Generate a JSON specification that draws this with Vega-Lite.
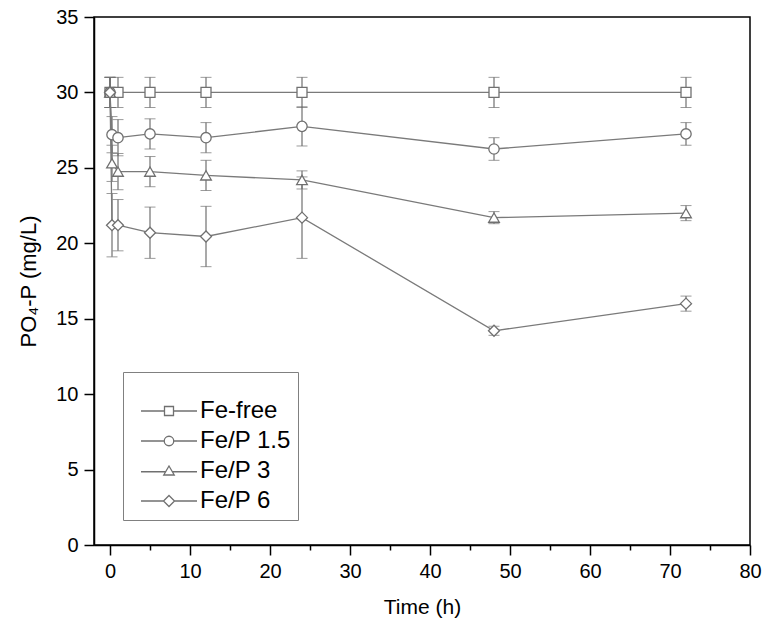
{
  "$schema": "https://vega.github.io/schema/vega-lite/v6.json",
  "width": 656,
  "height": 528,
  "autosize": "none",
  "padding": {"left": 94, "top": 17, "right": 13, "bottom": 86},
  "background": "white",
  "config": {
    "font": "Liberation Sans",
    "view": {"stroke": "black", "strokeWidth": 1.5},
    "axis": {
      "grid": false,
      "domainColor": "black",
      "domainWidth": 1.5,
      "tickColor": "black",
      "tickWidth": 1.5,
      "labelColor": "black",
      "titleColor": "black",
      "labelFont": "Liberation Sans",
      "titleFont": "Liberation Sans",
      "labelFontSize": 20,
      "titleFontSize": 22,
      "titleFontWeight": "normal"
    }
  },
  "data": {
    "values": [
      {"s": "Fe-free", "t": 0, "v": 30, "e": 1},
      {"s": "Fe-free", "t": 1, "v": 30, "e": 1},
      {"s": "Fe-free", "t": 5, "v": 30, "e": 1},
      {"s": "Fe-free", "t": 12, "v": 30, "e": 1},
      {"s": "Fe-free", "t": 24, "v": 30, "e": 1},
      {"s": "Fe-free", "t": 48, "v": 30, "e": 1},
      {"s": "Fe-free", "t": 72, "v": 30, "e": 1},
      {"s": "Fe/P 1.5", "t": 0, "v": 30, "e": 1},
      {"s": "Fe/P 1.5", "t": 0.25, "v": 27.2, "e": 1.2},
      {"s": "Fe/P 1.5", "t": 1, "v": 27.0, "e": 1.2},
      {"s": "Fe/P 1.5", "t": 5, "v": 27.25, "e": 1.0},
      {"s": "Fe/P 1.5", "t": 12, "v": 27.0, "e": 1.0},
      {"s": "Fe/P 1.5", "t": 24, "v": 27.75, "e": 1.3},
      {"s": "Fe/P 1.5", "t": 48, "v": 26.25, "e": 0.75},
      {"s": "Fe/P 1.5", "t": 72, "v": 27.25, "e": 0.75},
      {"s": "Fe/P 3", "t": 0, "v": 30, "e": 1},
      {"s": "Fe/P 3", "t": 0.25, "v": 25.3, "e": 1.2},
      {"s": "Fe/P 3", "t": 1, "v": 24.75, "e": 1.2},
      {"s": "Fe/P 3", "t": 5, "v": 24.75, "e": 1.0},
      {"s": "Fe/P 3", "t": 12, "v": 24.5, "e": 1.0},
      {"s": "Fe/P 3", "t": 24, "v": 24.2, "e": 0.6},
      {"s": "Fe/P 3", "t": 48, "v": 21.7, "e": 0.4},
      {"s": "Fe/P 3", "t": 72, "v": 22.0, "e": 0.5},
      {"s": "Fe/P 6", "t": 0, "v": 30, "e": 1},
      {"s": "Fe/P 6", "t": 0.25, "v": 21.2, "e": 2.1},
      {"s": "Fe/P 6", "t": 1, "v": 21.2, "e": 1.7},
      {"s": "Fe/P 6", "t": 5, "v": 20.7, "e": 1.7},
      {"s": "Fe/P 6", "t": 12, "v": 20.45, "e": 2.0},
      {"s": "Fe/P 6", "t": 24, "v": 21.7, "e": 2.7},
      {"s": "Fe/P 6", "t": 48, "v": 14.2, "e": 0.3},
      {"s": "Fe/P 6", "t": 72, "v": 16.0, "e": 0.5}
    ]
  },
  "encoding": {
    "x": {
      "field": "t",
      "type": "quantitative",
      "scale": {"domain": [-2, 80], "nice": false, "zero": false},
      "axis": {
        "title": "Time (h)",
        "titleFontSize": 21,
        "values": [0, 5, 10, 15, 20, 25, 30, 35, 40, 45, 50, 55, 60, 65, 70, 75, 80],
        "labelExpr": "datum.value % 10 === 0 ? datum.label : ''",
        "tickSize": {"condition": {"test": "datum.value % 10 === 0", "value": 10}, "value": 5},
        "labelPadding": 6,
        "titlePadding": 15,
        "labelFlush": false
      }
    },
    "y": {
      "field": "v",
      "type": "quantitative",
      "scale": {"domain": [0, 35], "nice": false},
      "axis": {
        "title": "PO₄-P (mg/L)",
        "values": [0, 5, 10, 15, 20, 25, 30, 35],
        "tickSize": 10,
        "labelPadding": 6,
        "titlePadding": 15
      }
    }
  },
  "layer": [
    {
      "mark": {"type": "errorbar", "color": "#707070", "ticks": {"size": 11, "color": "#707070"}, "rule": {"strokeWidth": 1.2}},
      "encoding": {
        "yError": {"field": "e"},
        "detail": {"field": "s"}
      }
    },
    {
      "mark": {"type": "line", "color": "#7a7a7a", "strokeWidth": 1.3},
      "encoding": {
        "detail": {"field": "s"},
        "order": {"field": "t"}
      }
    },
    {
      "mark": {"type": "point", "filled": false, "fill": "white", "fillOpacity": 1, "stroke": "#707070", "strokeWidth": 1.3, "opacity": 1},
      "encoding": {
        "shape": {
          "field": "s",
          "scale": {"domain": ["Fe-free", "Fe/P 1.5", "Fe/P 3", "Fe/P 6"], "range": ["square", "circle", "triangle-up", "diamond"]},
          "legend": null
        },
        "size": {
          "field": "s",
          "type": "nominal",
          "scale": {"domain": ["Fe-free", "Fe/P 1.5", "Fe/P 3", "Fe/P 6"], "range": [100, 121, 150, 169]},
          "legend": null
        }
      }
    },
    {
      "mark": {"type": "point", "filled": false, "size": 100, "fillOpacity": 0, "strokeOpacity": 0},
      "encoding": {
        "shape": {
          "field": "s",
          "scale": {
            "domain": ["Fe-free", "Fe/P 1.5", "Fe/P 3", "Fe/P 6"],
            "range": [
              "M -5.6 0 L -0.9 0 M 0.9 0 L 5.6 0 M -0.9 -0.9 L 0.9 -0.9 L 0.9 0.9 L -0.9 0.9 Z",
              "M -5.6 0 L -0.95 0 M 0.95 0 L 5.6 0 M -0.95 0 A 0.95 0.95 0 1 0 0.95 0 A 0.95 0.95 0 1 0 -0.95 0 Z",
              "M -5.6 0.15 L -0.6 0.15 M 0.6 0.15 L 5.6 0.15 M 0 -1 L 1.05 0.8 L -1.05 0.8 Z",
              "M -5.6 0 L -1.1 0 M 1.1 0 L 5.6 0 M 0 -1.1 L 1.1 0 L 0 1.1 L -1.1 0 Z"
            ]
          },
          "legend": {
            "title": " ",
            "titleFontSize": 14,
            "titlePadding": 6,
            "orient": "none",
            "legendX": 29,
            "legendY": 355,
            "padding": 7,
            "strokeColor": "#808080",
            "fillColor": "white",
            "labelFontSize": 24,
            "labelColor": "black",
            "labelFont": "Liberation Sans",
            "labelOffset": 19,
            "symbolOffset": 27,
            "rowPadding": 6,
            "symbolSize": 100,
            "symbolStrokeColor": "#707070",
            "symbolFillColor": "white",
            "symbolStrokeWidth": 1.3,
            "symbolOpacity": 1,
            "encode": {
              "symbols": {"update": {"opacity": {"value": 1}, "fillOpacity": {"value": 1}, "strokeOpacity": {"value": 1}, "stroke": {"value": "#707070"}, "fill": {"value": "white"}}}
            }
          }
        }
      }
    }
  ],
  "resolve": {"scale": {"shape": "independent"}}
}
